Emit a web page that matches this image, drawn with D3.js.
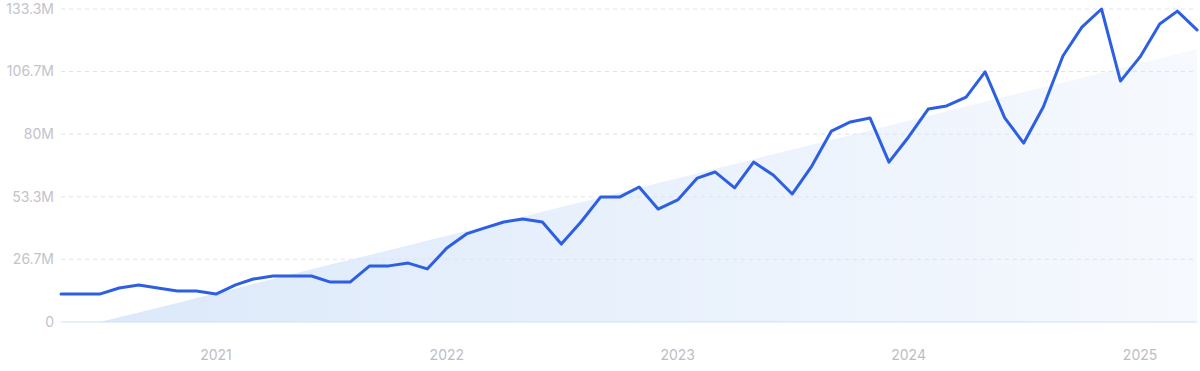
<!DOCTYPE html>
<html>
<head>
<meta charset="utf-8">
<script src="https://cdn.jsdelivr.net/npm/d3@7"></script>
<style>
  body { margin: 0; background: #fff; }
  svg { display: block; font-family: Inter, "Noto Sans", sans-serif; }
</style>
</head>
<body>
<svg id="chart"></svg>
<script>
// monthly values (millions), May 2020 .. Apr 2025
var firstMonth = new Date(2020, 4, 1)
var values = [
  11.9, 11.9, 11.9, 14.5, 15.8, 14.5, 13.2, 13.2, 11.9, 15.8,
  18.3, 19.6, 19.6, 19.6, 17.0, 17.0, 23.9, 23.9, 25.1, 22.6,
  31.5, 37.5, 40.0, 42.6, 43.9, 42.6, 33.2, 42.6, 53.2, 53.2,
  57.5, 48.1, 52.0, 61.3, 63.9, 57.1, 68.1, 62.6, 54.5, 66.4,
  81.3, 85.2, 86.9, 68.1, 78.8, 90.7, 92.0, 95.8, 106.5, 86.9,
  76.2, 91.6, 113.3, 125.6, 133.3, 102.6, 112.9, 126.9, 132.4, 124.4
]
// trend line values at first and last month
var trendEnds = [-4.1, 116.3]
var yTicks = [0, 26.7, 53.3, 80, 106.7, 133.3]
var yTickLabels = ['0', '26.7M', '53.3M', '80M', '106.7M', '133.3M']
var xTickYears = [2021, 2022, 2023, 2024, 2025]

var width = 1200, height = 371
var margin = { top: 9, left: 61, right: 3, bottom: 49 }

var months = values.map(function(v, i) {
  return d3.timeMonth.offset(firstMonth, i)
})
var data = values.map(function(v, i) { return { date: months[i], value: v } })

var svg = d3.select('#chart')
  .attr('width', width)
  .attr('height', height)

var x = d3.scaleTime()
  .domain([months[0], months[months.length - 1]])
  .range([margin.left, width - margin.right])

var y = d3.scaleLinear()
  .domain([0, 133.3])
  .range([height - margin.bottom, margin.top])

var defs = svg.append('defs')
var grad = defs.append('linearGradient')
  .attr('id', 'trendFill')
  .attr('x1', '0%').attr('y1', '0%')
  .attr('x2', '100%').attr('y2', '0%')
grad.append('stop').attr('offset', '0%').attr('stop-color', '#dce9fa')
grad.append('stop').attr('offset', '100%').attr('stop-color', '#f6f9fe')

// trend area, clipped at zero
var n = values.length
var trend = months.map(function(m, i) {
  return { date: m, value: trendEnds[0] + (trendEnds[1] - trendEnds[0]) * i / (n - 1) }
})
var zeroIdx = -trendEnds[0] / (trendEnds[1] - trendEnds[0]) * (n - 1)
var zeroDate = new Date(+months[0] + (months[n - 1] - months[0]) * zeroIdx / (n - 1))
var trendPts = [{ date: zeroDate, value: 0 }].concat(trend.filter(function(d) { return d.value > 0 }))

svg.append('path')
  .datum(trendPts)
  .attr('fill', 'url(#trendFill)')
  .attr('d', d3.area()
    .x(function(d) { return x(d.date) })
    .y0(y(0))
    .y1(function(d) { return y(d.value) }))

// gridlines + y labels
var yAxis = svg.append('g')
yAxis.selectAll('line.grid')
  .data(yTicks.slice(1))
  .enter().append('line')
  .attr('class', 'grid')
  .attr('x1', margin.left)
  .attr('x2', width - margin.right)
  .attr('y1', function(d) { return y(d) })
  .attr('y2', function(d) { return y(d) })
  .attr('stroke', '#d9e4f5')
  .attr('stroke-width', 1)
  .attr('stroke-dasharray', '4,4')

svg.append('line')
  .attr('x1', margin.left)
  .attr('x2', width - margin.right)
  .attr('y1', y(0))
  .attr('y2', y(0))
  .attr('stroke', '#cbe1fb')
  .attr('stroke-width', 1)

yAxis.selectAll('text')
  .data(yTicks)
  .enter().append('text')
  .attr('x', 54)
  .attr('y', function(d) { return y(d) })
  .attr('dy', '0.35em')
  .attr('text-anchor', 'end')
  .attr('fill', '#c2c3cb')
  .style('font-size', '14px')
  .text(function(d, i) { return yTickLabels[i] })

// x labels
svg.append('g').selectAll('text')
  .data(xTickYears)
  .enter().append('text')
  .attr('x', function(d) { return x(new Date(d, 0, 1)) })
  .attr('y', 355)
  .attr('dy', '0.35em')
  .attr('text-anchor', 'middle')
  .attr('fill', '#bcbdc6')
  .style('font-size', '14px')
  .text(function(d) { return d })

// main line
svg.append('path')
  .datum(data)
  .attr('fill', 'none')
  .attr('stroke', '#2d5fe2')
  .attr('stroke-width', 3)
  .attr('stroke-linejoin', 'round')
  .attr('stroke-linecap', 'round')
  .attr('d', d3.line()
    .x(function(d) { return x(d.date) })
    .y(function(d) { return y(d.value) }))
</script>
</body>
</html>
